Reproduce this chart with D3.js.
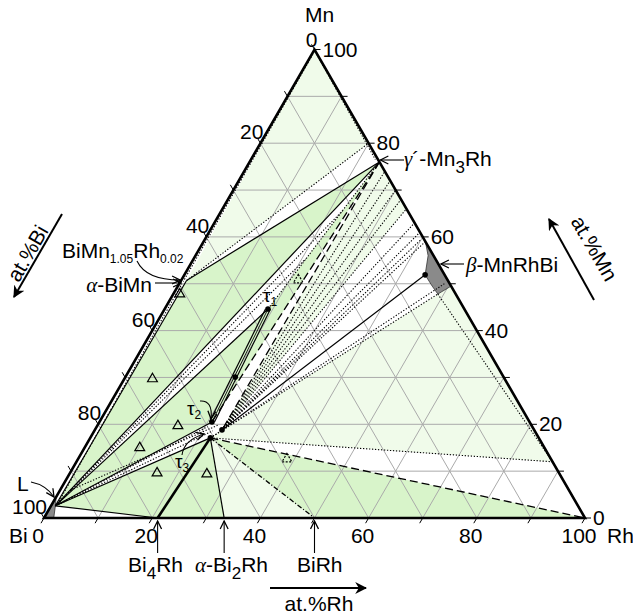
<!DOCTYPE html>
<html><head><meta charset="utf-8">
<script src="https://cdn.jsdelivr.net/npm/d3@7"></script>
<style>
body{margin:0;background:#fff}
svg text{font-family:"Liberation Sans",Arial,sans-serif;fill:#000}
.gr{font-family:"Liberation Serif","Times New Roman",serif;font-style:italic}
</style></head><body>
<svg id="chart" width="633" height="615"></svg>
<script>
// Compositions are given in at.% as [Bi, Mn, Rh]
const cornerBi = [100, 0, 0], cornerMn = [0, 100, 0], cornerRh = [0, 0, 100];
const gridValues = [10, 20, 30, 40, 50, 60, 70, 80, 90];
const tickValues = [0, 10, 20, 30, 40, 50, 60, 70, 80, 90, 100];
const tickLabels = [0, 20, 40, 60, 80, 100];

// phases and invariant points
const liquid   = [96.6, 2.6, 0.8];
const biMn     = [48.3, 50.7, 1.0];
const mn3Rh    = [0, 76, 24];
const mnLimit  = [0, 80, 20];
const tau1     = [36.3, 44.6, 19.1];
const tau1End  = [49.6, 30.1, 20.3];
const tau2     = [58.7, 20.5, 20.8];
const tau2Edge = [57.7, 18.8, 23.5];
const tau3     = [60.7, 17.1, 22.2];
const beta     = [3.6, 51.9, 44.5];
const betaTop  = [0, 59, 41];
const betaLow  = [3.3, 47.8, 48.9];
const betaSide = [0, 49.5, 50.5];
const rhLimit  = [0, 12, 88];
const side66   = [0, 66, 34];
const bi4Rh    = [79, 0, 21];
const bi2Rh    = [66.7, 0, 33.3];
const biRh     = [50, 0, 50];

// homogeneity ranges (grey)
const liquidArea = [cornerBi, [95.5, 4.5, 0], liquid, [98.2, 0, 1.8]];
const betaArea = [betaTop, [1, 56, 43], beta, [3.5, 49.5, 47], betaLow, betaSide];

// phase fields
const lightFields = [
  [cornerMn, biMn, mnLimit],
  [tau2Edge, mn3Rh, side66],
  [tau3, betaLow, betaSide, rhLimit],
  [tau3, bi2Rh, biRh]
];
const mediumFields = [
  [liquid, biMn, mn3Rh],
  [liquid, tau1, tau1End, tau2],
  [mn3Rh, tau1, tau2],
  [tau3, biRh, cornerRh],
  [tau3, bi4Rh, bi2Rh],
  [liquid, tau3, bi4Rh]
];

// boundary lines
const solidLines = [
  [biMn, mn3Rh], [liquid, mn3Rh], [liquid, biMn], [liquid, tau1],
  [liquid, tau2], [liquid, tau3], [liquid, bi4Rh], [tau2Edge, beta],
  [tau3, bi2Rh]
];
const thickLines = [[tau3, bi4Rh]];
const dashedLines = [[mn3Rh, tau2], [mn3Rh, tau2Edge], [tau3, cornerRh], [biRh, cornerRh], [rhLimit, cornerRh]];
const dashDotLines = [[tau3, biRh]];
const dottedLines = [
  [biMn, mnLimit], [mn3Rh, tau1], [tau2Edge, side66], [tau2Edge, betaTop],
  [tau2Edge, [0.5, 59.5, 40]], [tau3, betaLow], [betaLow, rhLimit], [tau3, rhLimit],
  [bi2Rh, biRh], [[0.8, 99, 0.2], [49, 50.5, 0.5]], [[0.1, 99, 0.9], [0.5, 76.5, 23]],
  [liquid, [12, 65.6, 22.4]], [liquid, [24, 55.3, 20.7]],
  [liquid, [60, 19.5, 20.5]], [liquid, [59.5, 18.6, 21.9]],
  [tau2Edge, [0, 68, 32]], [tau2Edge, [0, 70, 30]], [tau2Edge, [0, 72, 28]], [tau2Edge, [0, 74, 26]],
  [tau2Edge, [0, 63, 37]], [tau2Edge, [0, 61, 39]], [tau3, [1, 50, 49]],
  [[96, 3, 1], [49.5, 50, 0.5]], [[92, 6, 2], [58, 19.8, 22.2]]
];

// phase markers
const dots = [tau1, tau1End, tau2, tau2Edge, tau3, beta];
const openMarkers = [[50.9, 48.0, 1.1], [65, 29.9, 5.1], [65.3, 19.9, 14.8], [74.7, 15.2, 10.1], [74.2, 9.8, 16.0], [65.1, 9.6, 25.3]];
const dashedMarkers = [[48.7, 12.8, 38.5], [27.5, 51.0, 21.5]];

// ternary projection
const xs = d3.scaleLinear().domain([0, 100]).range([44, 585]);
const ys = d3.scaleLinear().domain([0, 100]).range([518, 49.5]);
const P = c => [xs(c[2] + c[1] / 2), ys(c[1])];

const svg = d3.select("#chart");
const g = svg.append("g");
const defs = svg.append("defs");
defs.append("marker").attr("id", "arr").attr("viewBox", "0 0 10 10").attr("refX", 9).attr("refY", 5)
  .attr("markerWidth", 9).attr("markerHeight", 9).attr("orient", "auto-start-reverse")
  .append("path").attr("d", "M1,1 L9,5 L1,9").attr("fill", "none").attr("stroke", "#000").attr("stroke-width", 1.3);
defs.append("marker").attr("id", "arrBig").attr("viewBox", "0 0 10 10").attr("refX", 9).attr("refY", 5)
  .attr("markerWidth", 6).attr("markerHeight", 6).attr("orient", "auto")
  .append("path").attr("d", "M0,0 L10,5 L0,10 L3,5 Z").attr("fill", "#000");

const line = d3.line();
const poly = pts => line(pts.map(P)) + "Z";

// fields
g.selectAll(".lf").data(lightFields).join("path").attr("d", poly).attr("fill", "#f0fbea");
g.selectAll(".mf").data(mediumFields).join("path").attr("d", poly).attr("fill", "#d8f4ca");

// grid
const grid = g.append("g").attr("stroke", "#aaaaaa").attr("stroke-width", 1);
gridValues.forEach(v => {
  grid.append("path").attr("d", line([P([100 - v, v, 0]), P([0, v, 100 - v])]));
  grid.append("path").attr("d", line([P([100 - v, 0, v]), P([0, 100 - v, v])]));
  grid.append("path").attr("d", line([P([v, 100 - v, 0]), P([v, 0, 100 - v])]));
});

// grey homogeneity areas
g.append("path").attr("d", poly(liquidArea)).attr("fill", "#8a8a8a").attr("stroke", "#333").attr("stroke-width", 0.8);
g.append("path").attr("d", poly(betaArea)).attr("fill", "#8a8a8a").attr("stroke", "#333").attr("stroke-width", 0.8);

const drawLines = (data, w, dash) => g.append("g").selectAll("path").data(data).join("path")
  .attr("d", d => line([P(d[0]), P(d[1])])).attr("fill", "none").attr("stroke", "#000")
  .attr("stroke-width", w).attr("stroke-dasharray", dash);
drawLines(dottedLines, 1.1, "1.3,1.7");
drawLines(solidLines, 1.2, null);
drawLines(thickLines, 2.6, null);
drawLines(dashedLines, 1.3, "8,4");
drawLines(dashDotLines, 1.3, "5,2,1,2");

// tau1 homogeneity band
[-2.5, 0, 2.5].forEach(o => {
  const a = P(tau1), b = P(tau2);
  g.append("path").attr("d", line([[a[0] + o, a[1]], [b[0] + o, b[1]]])).attr("stroke", "#000")
    .attr("stroke-width", o === 0 ? 0.9 : 1.2).attr("fill", "none");
});

// outer triangle
g.append("path").attr("d", poly([cornerBi, cornerMn, cornerRh])).attr("fill", "none")
  .attr("stroke", "#000").attr("stroke-width", 2.6).attr("stroke-linejoin", "miter");

// ticks
const tk = g.append("g").attr("stroke", "#000").attr("stroke-width", 1);
tickValues.forEach(v => {
  let p = P([100 - v, 0, v]); tk.append("path").attr("d", line([p, [p[0] - 3, p[1] + 5.2]]));
  p = P([v, 100 - v, 0]); tk.append("path").attr("d", line([p, [p[0] - 3, p[1] - 5.2]]));
  p = P([0, v, 100 - v]); tk.append("path").attr("d", line([p, [p[0] + 6, p[1]]]));
});

// markers
g.selectAll(".dot").data(dots).join("circle").attr("cx", d => P(d)[0]).attr("cy", d => P(d)[1]).attr("r", 2.8).attr("fill", "#000");
const tri = d3.symbol().type(d3.symbolTriangle).size(42);
g.selectAll(".om").data(openMarkers).join("path").attr("transform", d => `translate(${P(d)[0]},${P(d)[1] + 1})`)
  .attr("d", tri).attr("fill", "none").attr("stroke", "#000").attr("stroke-width", 1.2);
g.selectAll(".dm").data(dashedMarkers).join("path").attr("transform", d => `translate(${P(d)[0]},${P(d)[1] + 1})`)
  .attr("d", tri).attr("fill", "none").attr("stroke", "#000").attr("stroke-width", 1.2).attr("stroke-dasharray", "2,1.5");

// axis numbers
const T = svg.append("g").attr("font-size", 21);
tickLabels.forEach(v => {
  let p = P([v, 100 - v, 0]);
  T.append("text").attr("x", p[0] + 3).attr("y", v === 0 ? p[1] - 3 : p[1] - 4).attr("text-anchor", "end").text(v);
  p = P([0, v, 100 - v]);
  T.append("text").attr("x", p[0] + 8).attr("y", p[1] + 7).text(v);
  p = P([100 - v, 0, v]);
  T.append("text").attr("x", p[0] - 6).attr("y", 543).attr("text-anchor", "middle").text(v);
});
T.append("text").attr("x", 305).attr("y", 22).text("Mn");
T.append("text").attr("x", 9).attr("y", 543).text("Bi");
T.append("text").attr("x", 607).attr("y", 543).text("Rh");

// axis titles
const arrow = (x1, y1, x2, y2) => svg.append("path").attr("d", line([[x1, y1], [x2, y2]]))
  .attr("stroke", "#000").attr("stroke-width", 2).attr("fill", "none").attr("marker-end", "url(#arrBig)");
arrow(62, 214, 14, 297);
svg.append("text").attr("font-size", 21).attr("text-anchor", "middle")
  .attr("transform", "translate(34,257) rotate(-60)").text("at.%Bi");
arrow(594, 300, 549, 219);
svg.append("text").attr("font-size", 21).attr("text-anchor", "middle")
  .attr("transform", "translate(588,252) rotate(60)").text("at.%Mn");
arrow(270, 588, 366, 588);
svg.append("text").attr("font-size", 21).attr("x", 319).attr("y", 611).attr("text-anchor", "middle").text("at.%Rh");

// phase labels
const lab = svg.append("g").attr("font-size", 21);
const pointer = d => lab.append("path").attr("d", d).attr("fill", "none").attr("stroke", "#000")
  .attr("stroke-width", 1.1).attr("marker-end", "url(#arr)");

pointer(`M404,160 L${P(mn3Rh)[0] + 1},160`);
let t = lab.append("text").attr("x", 404).attr("y", 166);
t.append("tspan").attr("class", "gr").text("γ");
t.append("tspan").text("´-Mn");
t.append("tspan").attr("font-size", 17).attr("dy", 7).text("3");
t.append("tspan").attr("dy", -7).text("Rh");

pointer("M464,264 L441,264");
t = lab.append("text").attr("x", 466).attr("y", 272);
t.append("tspan").attr("class", "gr").text("β");
t.append("tspan").text("-MnRhBi");

t = lab.append("text").attr("x", 62).attr("y", 258);
t.append("tspan").text("BiMn");
t.append("tspan").attr("font-size", 12).attr("dy", 5).text("1.05");
t.append("tspan").attr("dy", -5).text("Rh");
t.append("tspan").attr("font-size", 12).attr("dy", 5).text("0.02");
pointer("M137,261 Q146,280 180,280");

pointer("M155,283 L181,283");
t = lab.append("text").attr("x", 152).attr("y", 292).attr("text-anchor", "end");
t.append("tspan").attr("class", "gr").text("α");
t.append("tspan").text("-BiMn");

lab.append("text").attr("x", 17).attr("y", 491).text("L");
pointer("M31,482 Q46,485 54,497");

const tauLabel = (x, y, n) => {
  const tt = lab.append("text").attr("x", x).attr("y", y).attr("font-size", 19)
    .attr("font-family", "'Liberation Serif',serif");
  tt.append("tspan").text("τ");
  tt.append("tspan").attr("font-size", 12).attr("dy", 4).text(n);
};
tauLabel(263, 302, "1");
tauLabel(187, 415, "2");
tauLabel(175, 468, "3");
pointer("M200,401 Q213,400 211,419");
pointer("M182,455 Q184,440 204,434");

// binary compound pointers on the Bi-Rh edge
[[bi4Rh, 128, ["Bi", "4", "Rh"], null], [bi2Rh, 195, ["Bi", "2", "Rh"], "α"], [biRh, 297, ["BiRh"], null]].forEach(([c, x, parts, greek]) => {
  const px = P(c)[0];
  pointer(`M${px},553 L${px},521`);
  const tt = lab.append("text").attr("x", x).attr("y", 572);
  if (greek) { tt.append("tspan").attr("class", "gr").text(greek); tt.append("tspan").text("-"); }
  tt.append("tspan").text(parts[0]);
  if (parts.length > 1) {
    tt.append("tspan").attr("font-size", 17).attr("dy", 7).text(parts[1]);
    tt.append("tspan").attr("dy", -7).text(parts[2]);
  }
});
</script>
</body></html>
